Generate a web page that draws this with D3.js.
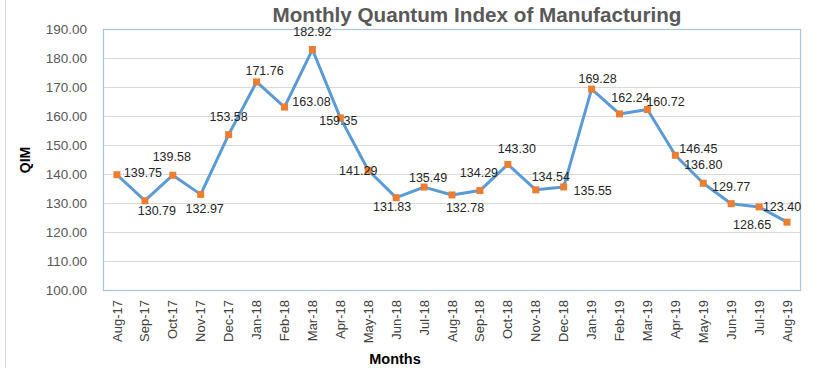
<!DOCTYPE html>
<html><head><meta charset="utf-8">
<script src="https://cdn.jsdelivr.net/npm/d3@7"></script>
<style>body{margin:0;background:#fff;}svg{display:block;font-family:"Liberation Sans",Arial,sans-serif;}</style>
</head><body>
<svg id="c" width="817" height="368"></svg>
<script>
const months = ["Aug-17","Sep-17","Oct-17","Nov-17","Dec-17","Jan-18","Feb-18","Mar-18","Apr-18","May-18","Jun-18","Jul-18","Aug-18","Sep-18","Oct-18","Nov-18","Dec-18","Jan-19","Feb-19","Mar-19","Apr-19","May-19","Jun-19","Jul-19","Aug-19"];
const qim = [139.75,130.79,139.58,132.97,153.58,171.76,163.08,182.92,159.35,141.29,131.83,135.49,132.78,134.29,143.30,134.54,135.55,169.28,160.72,162.24,146.45,136.80,129.77,128.65,123.40];
const yTicks = [100,110,120,130,140,150,160,170,180,190];
// label offsets (style): [dx, dy] from marker centre
const labelOffsets = [[26,-2],[12,10],[-1,-18],[4,15],[0,-18],[8,-11],[27,-5],[0,-18],[-2,3],[-10,1],[-4,9],[4,-9],[13,13],[-1,-18],[9,-15],[15,-13],[29,4],[6,-10],[46,-12],[-17,-12],[23,-6],[0,-18],[0,-17],[-7,18],[-5,-15]];

const svg = d3.select("#c");
const L=103,R=801,T=29,B=290;
const x = d3.scaleBand().domain(months).range([L,R]);
const y = d3.scaleLinear().domain([100,190]).range([B,T]);

// outer chart border
svg.append("rect").attr("x",5.5).attr("y",-1).attr("width",830).attr("height",380).attr("fill","none").attr("stroke","#D9D9D9");

// gridlines
svg.append("g").selectAll("line").data(yTicks).join("line")
  .attr("x1",L).attr("x2",R).attr("y1",d=>Math.round(y(d))+0.5).attr("y2",d=>Math.round(y(d))+0.5)
  .attr("stroke","#D9D9D9").attr("stroke-width",1);
// plot border
svg.append("rect").attr("x",L+0.5).attr("y",T+0.5).attr("width",R-L-1).attr("height",B-T).attr("fill","none").attr("stroke","#A9C4E0").attr("stroke-width",1.2);

// y axis labels
const ya = svg.append("g").attr("transform",`translate(${L},0)`).call(d3.axisLeft(y).tickValues(yTicks).tickFormat(d3.format(".2f")).tickSize(0).tickPadding(16));
ya.select(".domain").remove();
ya.selectAll("text").attr("font-size",13.5).attr("fill","#595959").attr("font-family","Liberation Sans, Arial, sans-serif");

// x axis labels
const xa = svg.append("g").attr("transform",`translate(0,${B})`).call(d3.axisBottom(x).tickSize(0).tickPadding(0));
xa.select(".domain").remove();
xa.selectAll("text").attr("font-size",13).attr("fill","#404040").attr("font-family","Liberation Sans, Arial, sans-serif")
  .attr("transform","rotate(-90)").attr("text-anchor","end").attr("dy","0.35em").attr("x",-10).attr("y",0);

// line
const cx = d=>x(d)+x.bandwidth()/2;
svg.append("path").datum(qim).attr("fill","none").attr("stroke","#5B9BD5").attr("stroke-width",3).attr("stroke-linejoin","round")
  .attr("d",d3.line().x((d,i)=>cx(months[i])).y(d=>y(d)));
// markers
svg.append("g").selectAll("rect").data(qim).join("rect")
  .attr("x",(d,i)=>cx(months[i])-3.5).attr("y",d=>y(d)-3.5).attr("width",7).attr("height",7).attr("fill","#ED7D31");
// data labels
svg.append("g").selectAll("text").data(qim).join("text")
  .attr("x",(d,i)=>cx(months[i])+labelOffsets[i][0]).attr("y",(d,i)=>y(d)+labelOffsets[i][1])
  .attr("text-anchor","middle").attr("dominant-baseline","central").attr("font-size",12.5).attr("fill","#262626")
  .text(d=>d3.format(".2f")(d));

// titles
svg.append("text").attr("x",477).attr("y",22).attr("text-anchor","middle").attr("font-size",21).attr("font-weight","bold")
  .attr("fill","#595959").attr("textLength",409).attr("lengthAdjust","spacingAndGlyphs").text("Monthly Quantum Index of Manufacturing");
svg.append("text").attr("transform","translate(30,160) rotate(-90)").attr("text-anchor","middle").attr("font-size",14).attr("font-weight","bold").attr("fill","#000").text("QIM");
svg.append("text").attr("x",395).attr("y",364).attr("text-anchor","middle").attr("font-size",14.5).attr("font-weight","bold").attr("fill","#000").text("Months");
</script>
</body></html>
